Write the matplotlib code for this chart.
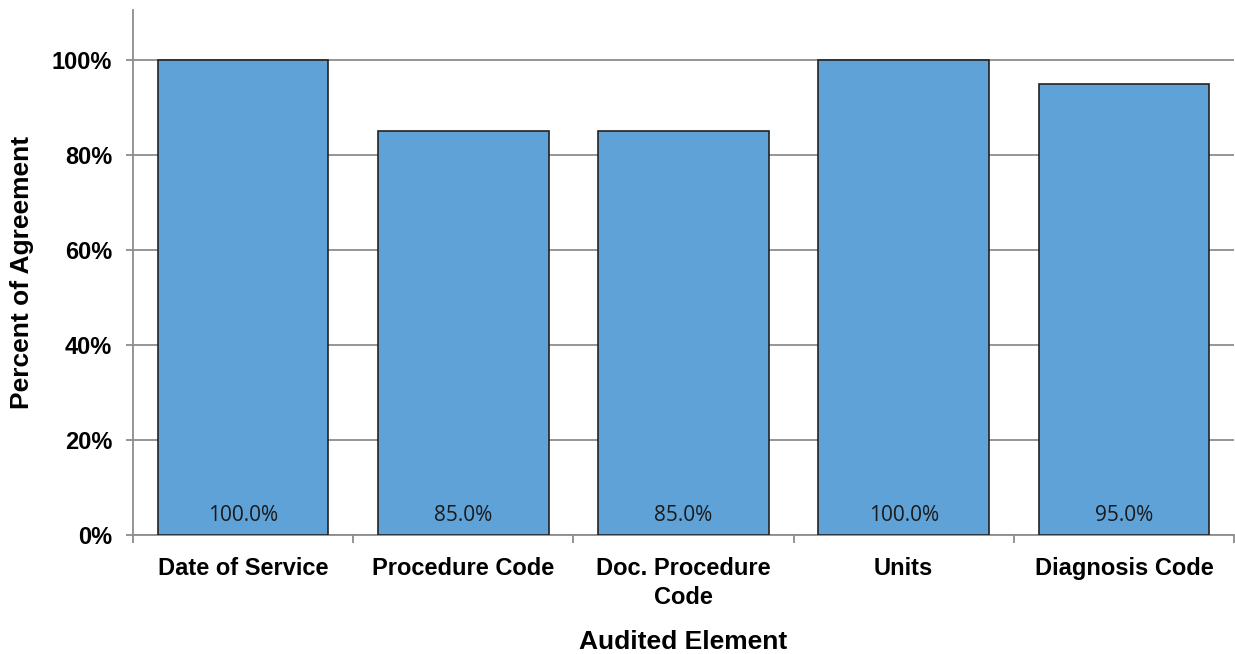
import matplotlib
matplotlib.use("Agg")
import matplotlib.pyplot as plt
import numpy as np

categories = ["Date of Service", "Procedure Code", "Doc. Procedure\nCode", "Units", "Diagnosis Code"]
agreement = [100.0, 85.0, 85.0, 100.0, 95.0]
yticks = [0, 20, 40, 60, 80, 100]

bar_color = "#5fa2d8"
grid_color = "#8c8c8c"

plt.rcParams["font.family"] = ["Liberation Sans", "DejaVu Sans"]

fig = plt.figure(figsize=(12.35, 6.54), dpi=100)
ax = fig.add_axes([133 / 1235, 119 / 654, 1101 / 1235, 525 / 654])

x = np.arange(len(categories))
ax.bar(x, agreement, width=0.775, color=bar_color, edgecolor="#222222", linewidth=1.2, zorder=3)

for xi, v in zip(x, agreement):
    ax.text(xi, 4.0, f"{v:.1f}%", ha="center", va="center", fontsize=15,
            family=["Open Sans", "DejaVu Sans"], color="#1a1a1a", zorder=4)

ax.set_xlim(-0.5, len(categories) - 0.5)
ax.set_ylim(0, 110.5)

ax.set_yticks(yticks)
ax.set_yticklabels([f"{t}%" for t in yticks], fontsize=17, fontweight="bold")
ax.yaxis.grid(True, color=grid_color, linewidth=1.3, zorder=0)
ax.tick_params(axis="y", length=5, width=1.3, color=grid_color, pad=10)

ax.set_xticks(x)
ax.set_xticklabels(categories, fontsize=17, fontweight="bold", linespacing=1.3)
ax.set_xticks(np.arange(len(categories) + 1) - 0.5, minor=True)
ax.tick_params(axis="x", which="major", length=0, pad=16)
ax.tick_params(axis="x", which="minor", length=6, width=1.3, color=grid_color)

for side in ["top", "right"]:
    ax.spines[side].set_visible(False)
for side in ["left", "bottom"]:
    ax.spines[side].set_color(grid_color)
    ax.spines[side].set_linewidth(1.3)

ax.set_ylabel("Percent of Agreement", fontsize=19, fontweight="bold", va="center", ha="center")
ax.yaxis.set_label_coords(-111 / 1101, 0.5)
ax.set_xlabel("Audited Element", fontsize=19, fontweight="bold", va="center", ha="center")
ax.xaxis.set_label_coords(0.5, -107 / 525)

fig.savefig("out.png", dpi=100)
